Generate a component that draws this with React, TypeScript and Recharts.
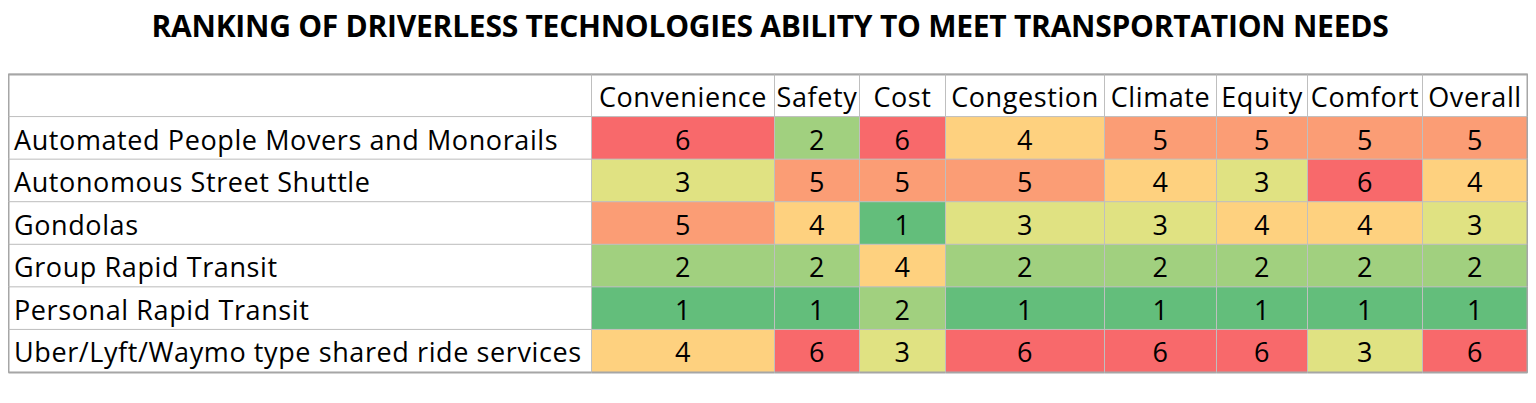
import { BarChart, Bar, XAxis, YAxis } from "recharts";

const title = "RANKING OF DRIVERLESS TECHNOLOGIES ABILITY TO MEET TRANSPORTATION NEEDS";

const criteria = ["Convenience", "Safety", "Cost", "Congestion", "Climate", "Equity", "Comfort", "Overall"];

const technologies = [
  "Automated People Movers and Monorails",
  "Autonomous Street Shuttle",
  "Gondolas",
  "Group Rapid Transit",
  "Personal Rapid Transit",
  "Uber/Lyft/Waymo type shared ride services",
];

// rank per criterion, same order as criteria
const peopleMovers = [6, 2, 6, 4, 5, 5, 5, 5];
const streetShuttle = [3, 5, 5, 5, 4, 3, 6, 4];
const gondolas = [5, 4, 1, 3, 3, 4, 4, 3];
const groupRapid = [2, 2, 4, 2, 2, 2, 2, 2];
const personalRapid = [1, 1, 2, 1, 1, 1, 1, 1];
const sharedRide = [4, 6, 3, 6, 6, 6, 3, 6];

const rankRows = [peopleMovers, streetShuttle, gondolas, groupRapid, personalRapid, sharedRide];

// layout: width of the label column, then each criterion column
const COL_WIDTHS = [583, 183, 85, 86, 159, 112, 91, 115, 105];
const TOTAL = COL_WIDTHS.reduce((a, b) => a + b, 0);

const FONT = "'Open Sans', sans-serif";
const GRID = "#BFBFBF";
const EDGE = "#A6A6A6";

type Row = { name: string; kind: "header" | "row"; ranks?: number[] };

const tableData: Row[] = [
  { name: "header", kind: "header" },
  ...technologies.map((name, i) => ({ name, kind: "row" as const, ranks: rankRows[i] })),
];

// excel-like 3 colour scale: green (1) -> yellow (3.5) -> red (6)
const GREEN = [99, 190, 123];
const YELLOW = [255, 235, 132];
const RED = [248, 105, 107];
function rankColor(v: number) {
  const mix = (a: number[], b: number[], t: number) =>
    `rgb(${a.map((c, i) => Math.round(c + (b[i] - c) * t)).join(",")})`;
  if (v <= 3.5) return mix(GREEN, YELLOW, (v - 1) / 2.5);
  return mix(YELLOW, RED, (v - 3.5) / 2.5);
}

function cellShape(col: number) {
  const last = COL_WIDTHS.length - 1;
  return (props: any) => {
    const { x, y, width, height, payload, index } = props;
    const row = payload as Row;
    let fill = "#FFFFFF";
    let label = "";
    if (row.kind === "header") {
      label = col === 0 ? "" : criteria[col - 1];
    } else if (col === 0) {
      label = row.name;
    } else {
      const v = row.ranks![col - 1];
      fill = rankColor(v);
      label = String(v);
    }
    const left = Math.round(x) + 0.5;
    const right = Math.round(x + width) + 0.5;
    const top = y;
    const bottom = y + height;
    const isLastRow = index === tableData.length - 1;
    return (
      <g>
        <rect x={left} y={top} width={right - left} height={height} fill={fill} stroke={GRID} strokeWidth={1} />
        {row.kind === "header" && <line x1={left} x2={right} y1={top + 0.5} y2={top + 0.5} stroke={EDGE} strokeWidth={2} />}
        {isLastRow && <line x1={left} x2={right} y1={bottom} y2={bottom} stroke={EDGE} strokeWidth={2} />}
        {col === 0 && <line x1={left} x2={left} y1={top} y2={bottom} stroke={EDGE} strokeWidth={2} />}
        {col === last && <line x1={right} x2={right} y1={top} y2={bottom} stroke={EDGE} strokeWidth={2} />}
        {label && (
          <text
            x={col === 0 ? left + 5.5 : (left + right) / 2}
            y={top + height / 2 + 11.5}
            textAnchor={col === 0 ? "start" : "middle"}
            fontFamily={FONT}
            fontSize={27}
            letterSpacing={0.6}
            fill="#000"
          >
            {label}
          </text>
        )}
      </g>
    );
  };
}

export default function App() {
  return (
    <div style={{ position: "relative", width: 1520, height: 395, background: "#fff" }}>
      <BarChart
        width={1520}
        height={395}
        data={tableData}
        layout="vertical"
        margin={{ top: 66, right: 1, bottom: 31, left: 0 }}
        barCategoryGap={0}
        barGap={0}
      >
        <XAxis type="number" domain={[0, TOTAL]} hide />
        <YAxis type="category" dataKey="name" hide />
        {COL_WIDTHS.map((w, k) => (
          <Bar
            key={k}
            dataKey={() => w}
            stackId="table"
            isAnimationActive={false}
            shape={cellShape(k)}
          />
        ))}
      </BarChart>
      <div
        style={{
          position: "absolute",
          left: 0,
          top: 0,
          width: 1520,
          textAlign: "center",
          fontFamily: FONT,
          fontWeight: 700,
          fontSize: 30,
          letterSpacing: -0.25,
          lineHeight: "36px",
          color: "#000",
          paddingLeft: 4,
          boxSizing: "border-box",
          whiteSpace: "nowrap",
        }}
      >
        {title}
      </div>
    </div>
  );
}
